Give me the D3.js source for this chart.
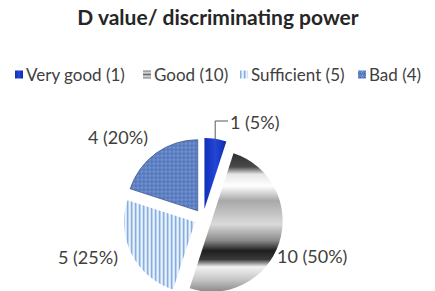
<!DOCTYPE html>
<html>
<head>
<meta charset="utf-8">
<script src="https://cdn.jsdelivr.net/npm/d3@7"></script>
<style>
  body { margin: 0; background: #fff; }
  text { font-family: Lato, "Open Sans", sans-serif; }
</style>
</head>
<body>
<svg id="chart"></svg>
<script>
// data
const categories = ['Very good', 'Good', 'Sufficient', 'Bad'];
const counts = [1, 10, 5, 4];
const percents = ['5%', '50%', '25%', '20%'];
const title = 'D value/ discriminating power';

const width = 435, height = 291;
const svg = d3.select('#chart').attr('width', width).attr('height', height);
const defs = svg.append('defs');

// fills
const vg = defs.append('linearGradient').attr('id', 'fill0')
  .attr('x1', 0).attr('x2', 1).attr('y1', 0).attr('y2', 0);
vg.append('stop').attr('offset', 0).attr('stop-color', '#0f2fb8');
vg.append('stop').attr('offset', 0.5).attr('stop-color', '#2446d6');
vg.append('stop').attr('offset', 1).attr('stop-color', '#0c2aa8');

const cx = 203, cy = 218, r = 71, explode = 9;

const good = defs.append('linearGradient').attr('id', 'fill1')
  .attr('gradientUnits', 'userSpaceOnUse')
  .attr('x1', 0).attr('x2', 0).attr('y1', 145 - cy).attr('y2', 292 - cy);
[[0, '#242424'], [0.13, '#4a4a4a'], [0.18, '#e6e6e6'], [0.26, '#ffffff'],
 [0.36, '#a8a8a8'], [0.52, '#dadada'], [0.63, '#8c8c8c'], [0.7, '#1e1e1e'],
 [0.76, '#3a3a3a'], [0.81, '#f2f2f2'], [0.9, '#c4c4c4'], [1, '#7a7a7a']]
  .forEach(([o, c]) => good.append('stop').attr('offset', o).attr('stop-color', c));

// legend swatch for good uses its own bounding-box gradient
const goodKey = defs.append('linearGradient').attr('id', 'fill1key')
  .attr('x1', 0).attr('x2', 0).attr('y1', 0).attr('y2', 1);
[[0, '#7a7a7a'], [0.3, '#e0e0e0'], [0.5, '#6a6a6a'], [0.7, '#e0e0e0'], [1, '#7a7a7a']]
  .forEach(([o, c]) => goodKey.append('stop').attr('offset', o).attr('stop-color', c));

const suf = defs.append('pattern').attr('id', 'fill2')
  .attr('patternUnits', 'userSpaceOnUse').attr('width', 4).attr('height', 4);
suf.append('rect').attr('width', 4).attr('height', 4).attr('fill', '#c3d9f1');
suf.append('rect').attr('x', 0).attr('width', 1.2).attr('height', 4).attr('fill', '#86ade0');
suf.append('rect').attr('x', 2.3).attr('width', 1).attr('height', 4).attr('fill', '#ffffff');

const bad = defs.append('pattern').attr('id', 'fill3')
  .attr('patternUnits', 'userSpaceOnUse').attr('width', 4).attr('height', 4);
bad.append('rect').attr('width', 4).attr('height', 4).attr('fill', '#5f82c4');
bad.append('rect').attr('x', 0).attr('y', 0).attr('width', 1).attr('height', 1).attr('fill', '#8aa6d8');
bad.append('rect').attr('x', 2).attr('y', 2).attr('width', 1).attr('height', 1).attr('fill', '#4566ad');
bad.append('rect').attr('x', 3).attr('y', 1).attr('width', 1).attr('height', 1).attr('fill', '#7c9bd2');
bad.append('rect').attr('x', 1).attr('y', 3).attr('width', 1).attr('height', 1).attr('fill', '#4a6cb2');

// title
svg.append('text')
  .attr('x', 218).attr('y', 25)
  .attr('text-anchor', 'middle')
  .attr('font-size', 21).attr('font-weight', 'bold')
  .attr('fill', '#262626')
  .text(title);

// legend
const legendX = [15, 143, 240, 358];
const keyFill = ['url(#fill0)', 'url(#fill1key)', 'url(#fill2)', 'url(#fill3)'];
const legend = svg.append('g');
categories.forEach((c, i) => {
  const g = legend.append('g').attr('transform', `translate(${legendX[i]},75)`);
  g.append('rect').attr('x', 0).attr('y', -4.5).attr('width', 8).attr('height', 8)
    .attr('fill', keyFill[i]);
  g.append('text').attr('x', 11).attr('y', 5.5)
    .attr('font-size', 17).attr('fill', '#404040')
    .text(`${c} (${counts[i]})`);
});

// pie
const pie = d3.pie().sort(null).value(d => d);
const arcs = pie(counts);
const arc = d3.arc().innerRadius(0).outerRadius(r);

const offset = d => {
  const a = (d.startAngle + d.endAngle) / 2;
  return [explode * Math.sin(a), -explode * Math.cos(a)];
};

const pieG = svg.append('g').attr('transform', `translate(${cx},${cy})`);
pieG.selectAll('path.slice')
  .data(arcs)
  .join('path')
  .attr('class', 'slice')
  .attr('transform', d => `translate(${offset(d)})`)
  .attr('d', arc)
  .attr('fill', (d, i) => `url(#fill${i})`)
  .attr('stroke', (d, i) => i === 3 ? '#3d5a94' : 'none')
  .attr('stroke-width', 0.8);

// data labels
const labelPos = [[230, 129], [277, 263], [58, 264], [88, 144]];
arcs.forEach((d, i) => {
  svg.append('text')
    .attr('x', labelPos[i][0]).attr('y', labelPos[i][1])
    .attr('font-size', 18).attr('fill', '#404040')
    .text(`${counts[i]} (${percents[i]})`);
});

// leader line for the small slice
const d0 = arcs[0];
const [ox, oy] = offset(d0);
const a0 = (d0.startAngle + d0.endAngle) / 2;
const sx = cx + ox + (r - 2) * Math.sin(a0), sy = cy + oy - (r - 2) * Math.cos(a0);
svg.append('path')
  .attr('d', `M${sx},${sy} L${sx},121 L228,121`)
  .attr('fill', 'none').attr('stroke', '#595959').attr('stroke-width', 1);
</script>
</body>
</html>
